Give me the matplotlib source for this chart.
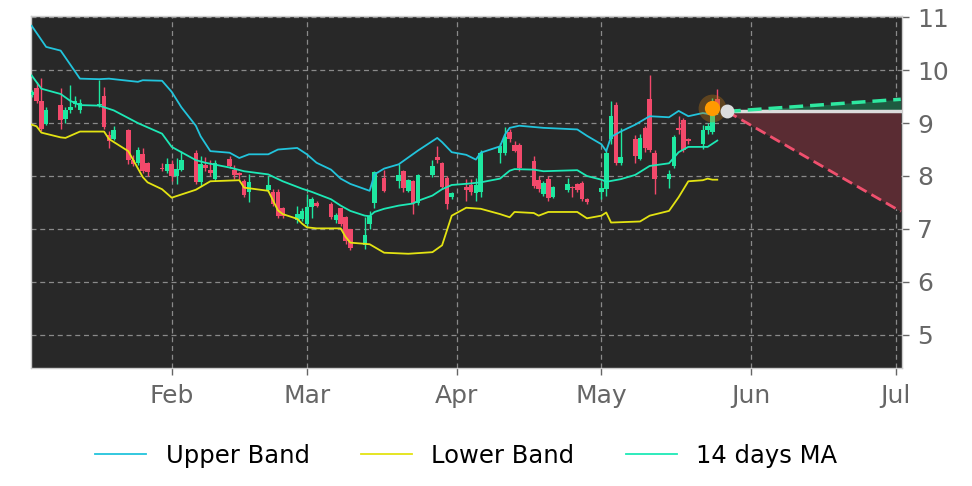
import matplotlib
matplotlib.use("Agg")
import matplotlib.pyplot as plt
import matplotlib.dates as mdates
import numpy as np
import pandas as pd

# ---------------- data ----------------
candle_dates = [
    "2023-01-03","2023-01-04","2023-01-05","2023-01-06","2023-01-09","2023-01-10","2023-01-11","2023-01-12","2023-01-13",
    "2023-01-17","2023-01-18","2023-01-19","2023-01-20","2023-01-23","2023-01-24","2023-01-25","2023-01-26","2023-01-27",
    "2023-01-30","2023-01-31","2023-02-01","2023-02-02","2023-02-03","2023-02-06","2023-02-07","2023-02-08","2023-02-09",
    "2023-02-10","2023-02-13","2023-02-14","2023-02-15","2023-02-16","2023-02-17","2023-02-21","2023-02-22","2023-02-23",
    "2023-02-24","2023-02-27","2023-02-28","2023-03-01","2023-03-02","2023-03-03","2023-03-06","2023-03-07","2023-03-08",
    "2023-03-09","2023-03-10","2023-03-13","2023-03-14","2023-03-15","2023-03-17","2023-03-20","2023-03-21","2023-03-22",
    "2023-03-23","2023-03-24","2023-03-27","2023-03-28","2023-03-29","2023-03-30","2023-03-31","2023-04-03","2023-04-04",
    "2023-04-05","2023-04-06","2023-04-10","2023-04-11","2023-04-12","2023-04-13","2023-04-14","2023-04-17","2023-04-18",
    "2023-04-19","2023-04-20","2023-04-21","2023-04-24","2023-04-25","2023-04-26","2023-04-27","2023-04-28","2023-05-01",
    "2023-05-02","2023-05-03","2023-05-04","2023-05-05","2023-05-08","2023-05-09","2023-05-10","2023-05-11","2023-05-12",
    "2023-05-15","2023-05-16","2023-05-17","2023-05-18","2023-05-19","2023-05-22","2023-05-23","2023-05-24","2023-05-25",
]
opens = [
    9.53, 9.66, 9.41, 8.99, 9.35, 9.08, 9.25, 9.36, 9.24,
    9.35, 9.51, 8.78, 8.70, 8.86, 8.31, 8.25, 8.41, 8.24,
    8.16, 8.09, 8.22, 8.00, 8.12, 8.44, 7.89, 8.20, 8.12,
    7.94, 8.33, 8.12, 8.05, 7.91, 7.70, 7.73, 7.69, 7.69,
    7.39, 7.16, 7.19, 7.09, 7.41, 7.49, 7.47, 7.17, 7.39,
    7.22, 6.99, 6.69, 7.09, 7.49, 7.97, 7.91, 8.09, 7.72,
    7.91, 7.49, 8.01, 8.36, 8.24, 7.97, 7.60, 7.80, 7.83,
    7.68, 7.69, 8.44, 8.44, 8.84, 8.59, 8.59, 8.28, 7.93,
    7.66, 7.94, 7.61, 7.74, 7.80, 7.84, 7.86, 7.56, 7.69,
    7.75, 8.69, 9.34, 8.25, 8.70, 8.32, 8.91, 9.45, 8.44,
    7.95, 8.19, 8.91, 9.06, 8.69, 8.61, 8.86, 8.84, 9.45,
]
highs = [
    9.62, 9.78, 9.85, 9.30, 9.66, 9.30, 9.72, 9.52, 9.45,
    9.81, 9.69, 8.85, 8.94, 8.88, 8.40, 8.55, 8.53, 8.27,
    8.25, 8.34, 8.30, 8.34, 8.47, 8.50, 8.38, 8.35, 8.31,
    8.30, 8.38, 8.20, 8.08, 7.95, 8.03, 8.00, 7.75, 7.75,
    7.42, 7.44, 7.40, 7.66, 7.60, 7.52, 7.50, 7.30, 7.40,
    7.25, 7.00, 7.22, 7.34, 8.10, 8.12, 8.22, 8.12, 7.95,
    7.93, 8.03, 8.31, 8.57, 8.27, 8.00, 7.70, 7.94, 7.94,
    7.97, 8.49, 8.62, 8.92, 8.88, 8.66, 8.62, 8.38, 8.00,
    7.90, 8.00, 7.82, 7.97, 7.81, 7.86, 7.90, 7.58, 7.89,
    8.50, 9.41, 9.40, 8.90, 8.78, 8.80, 8.95, 9.91, 8.50,
    8.12, 8.78, 9.13, 9.10, 8.72, 8.97, 9.00, 9.47, 9.65,
]
lows = [
    9.50, 9.38, 8.85, 8.97, 8.88, 9.00, 9.19, 9.30, 9.20,
    9.30, 8.88, 8.53, 8.68, 8.22, 8.18, 8.20, 8.05, 8.00,
    8.10, 8.05, 7.90, 7.85, 8.10, 7.85, 7.81, 8.10, 8.00,
    7.90, 8.15, 7.95, 7.95, 7.60, 7.51, 7.70, 7.43, 7.20,
    7.20, 7.12, 7.15, 7.05, 7.20, 7.42, 7.18, 7.12, 7.05,
    6.72, 6.60, 6.62, 7.00, 7.40, 7.70, 7.78, 7.70, 7.70,
    7.28, 7.45, 7.98, 8.25, 7.75, 7.38, 7.56, 7.53, 7.65,
    7.53, 7.60, 8.25, 8.40, 8.65, 8.45, 8.10, 7.78, 7.70,
    7.63, 7.53, 7.58, 7.70, 7.60, 7.70, 7.53, 7.48, 7.56,
    7.63, 8.60, 8.20, 8.20, 8.25, 8.30, 8.45, 8.45, 7.66,
    7.78, 8.15, 8.80, 8.45, 8.60, 8.51, 8.80, 8.80, 9.25,
]
closes = [
    9.58, 9.42, 8.88, 9.25, 9.06, 9.25, 9.31, 9.41, 9.38,
    9.37, 8.93, 8.66, 8.86, 8.31, 8.22, 8.50, 8.09, 8.08,
    8.13, 8.22, 8.00, 8.13, 8.31, 7.89, 8.22, 8.16, 8.05,
    8.25, 8.19, 8.01, 8.01, 7.64, 7.89, 7.83, 7.47, 7.25,
    7.25, 7.28, 7.34, 7.41, 7.56, 7.44, 7.22, 7.26, 7.09,
    6.78, 6.63, 6.88, 7.24, 8.07, 7.72, 8.01, 7.78, 7.92,
    7.49, 8.01, 8.19, 8.30, 7.80, 7.47, 7.67, 7.74, 7.69,
    7.83, 8.44, 8.56, 8.74, 8.69, 8.47, 8.16, 7.81, 7.75,
    7.86, 7.59, 7.80, 7.84, 7.78, 7.74, 7.56, 7.50, 7.78,
    8.44, 9.14, 8.25, 8.36, 8.38, 8.72, 8.53, 8.50, 7.94,
    8.04, 8.74, 8.86, 8.49, 8.66, 8.87, 8.95, 9.16, 9.30,
]

upper_dates = ["2023-01-03","2023-01-06","2023-01-09","2023-01-13","2023-01-17","2023-01-19","2023-01-25","2023-01-26",
               "2023-01-30","2023-02-01","2023-02-03","2023-02-06","2023-02-07","2023-02-09","2023-02-13","2023-02-15",
               "2023-02-17","2023-02-21","2023-02-23","2023-02-27","2023-03-01","2023-03-03","2023-03-06","2023-03-08",
               "2023-03-10","2023-03-14","2023-03-15","2023-03-17","2023-03-20","2023-03-24","2023-03-28","2023-03-29",
               "2023-03-31","2023-04-03","2023-04-05","2023-04-06","2023-04-10","2023-04-11","2023-04-12","2023-04-14",
               "2023-04-19","2023-04-26","2023-04-28","2023-05-01","2023-05-02","2023-05-03","2023-05-05","2023-05-08",
               "2023-05-11","2023-05-15","2023-05-17","2023-05-19","2023-05-22","2023-05-24","2023-05-25"]
upper_vals = [10.84, 10.44, 10.37, 9.84, 9.83, 9.84, 9.78, 9.81,
              9.80, 9.59, 9.30, 8.95, 8.75, 8.47, 8.44, 8.34,
              8.41, 8.41, 8.50, 8.53, 8.41, 8.25, 8.12, 7.95,
              7.85, 7.72, 8.03, 8.14, 8.22, 8.48, 8.72, 8.64,
              8.45, 8.40, 8.31, 8.44, 8.56, 8.78, 8.91, 8.95,
              8.91, 8.88, 8.76, 8.60, 8.47, 8.74, 8.84, 8.97,
              9.13, 9.11, 9.23, 9.13, 9.19, 9.16, 9.17]

ma_dates = ["2023-01-03","2023-01-05","2023-01-09","2023-01-11","2023-01-13","2023-01-17","2023-01-20","2023-01-25",
            "2023-01-30","2023-02-01","2023-02-06","2023-02-08","2023-02-13","2023-02-16","2023-02-21","2023-02-24",
            "2023-02-28","2023-03-02","2023-03-06","2023-03-08","2023-03-10","2023-03-13","2023-03-14","2023-03-15",
            "2023-03-17","2023-03-20","2023-03-23","2023-03-24","2023-03-27","2023-03-29","2023-03-31","2023-04-04",
            "2023-04-06","2023-04-10","2023-04-12","2023-04-13","2023-04-17","2023-04-19","2023-04-26","2023-04-28",
            "2023-05-01","2023-05-02","2023-05-05","2023-05-08","2023-05-11","2023-05-15","2023-05-17","2023-05-19",
            "2023-05-23","2023-05-25"]
ma_vals = [9.90, 9.65, 9.55, 9.42, 9.34, 9.33, 9.24, 9.00,
           8.80, 8.55, 8.30, 8.25, 8.16, 8.09, 8.03, 7.90,
           7.76, 7.70, 7.56, 7.44, 7.34, 7.25, 7.24, 7.32,
           7.38, 7.44, 7.48, 7.53, 7.63, 7.75, 7.83, 7.86,
           7.88, 7.95, 8.10, 8.13, 8.12, 8.09, 8.11, 8.00,
           7.93, 7.89, 7.94, 8.02, 8.19, 8.24, 8.45, 8.55,
           8.55, 8.67]

lower_dates = ["2023-01-03","2023-01-04","2023-01-05","2023-01-09","2023-01-10","2023-01-13","2023-01-18","2023-01-19",
               "2023-01-23","2023-01-26","2023-01-27","2023-01-30","2023-02-01","2023-02-02","2023-02-06","2023-02-09",
               "2023-02-15","2023-02-16","2023-02-21","2023-02-23","2023-02-24","2023-02-27","2023-02-28","2023-03-01",
               "2023-03-03","2023-03-08","2023-03-09","2023-03-10","2023-03-14","2023-03-17","2023-03-22","2023-03-27",
               "2023-03-29","2023-03-31","2023-04-03","2023-04-06","2023-04-10","2023-04-12","2023-04-13","2023-04-17",
               "2023-04-18","2023-04-20","2023-04-26","2023-04-28","2023-05-01","2023-05-02","2023-05-03","2023-05-09",
               "2023-05-11","2023-05-15","2023-05-17","2023-05-19","2023-05-22","2023-05-23","2023-05-24","2023-05-25"]
lower_vals = [8.97, 8.94, 8.82, 8.73, 8.72, 8.84, 8.84, 8.70,
              8.47, 7.98, 7.88, 7.75, 7.59, 7.62, 7.74, 7.90,
              7.92, 7.78, 7.72, 7.35, 7.28, 7.19, 7.10, 7.03,
              7.01, 7.01, 6.85, 6.74, 6.71, 6.55, 6.53, 6.56,
              6.69, 7.25, 7.40, 7.38, 7.28, 7.22, 7.32, 7.30,
              7.25, 7.32, 7.32, 7.20, 7.25, 7.31, 7.12, 7.14,
              7.25, 7.34, 7.60, 7.90, 7.92, 7.95, 7.93, 7.93]

marker_date, marker_val = "2023-05-24", 9.28
proj_dates = ["2023-05-27", "2023-07-02"]
proj_mid = [9.22, 9.22]
proj_high = [9.22, 9.45]
proj_low = [9.22, 7.33]

month_ticks = ["2023-02-01", "2023-03-01", "2023-04-01", "2023-05-01", "2023-06-01", "2023-07-01"]
month_labels = ["Feb", "Mar", "Apr", "May", "Jun", "Jul"]
y_ticks = [5, 6, 7, 8, 9, 10, 11]

# ---------------- styling ----------------
bg = "#282828"
up_c = "#1ee8a0"
down_c = "#f2496b"
upper_c = "#22c4dc"
lower_c = "#e3e312"
ma_c = "#1de9b6"

def dn(lst):
    return mdates.date2num(pd.to_datetime(lst))

fig = plt.figure(figsize=(9.72, 4.86), dpi=100)
fig.patch.set_facecolor("white")
ax = fig.add_axes([0.0316, 0.2422, 0.8961, 0.7255])
ax.set_facecolor(bg)

cd = dn(candle_dates)
o = np.array(opens); h = np.array(highs); l = np.array(lows); c = np.array(closes)
cols = np.where(c >= o, up_c, down_c)
ax.vlines(cd, l, h, colors=cols, linewidth=1.0, zorder=3)
body_bottom = np.minimum(o, c)
body_h = np.maximum(np.abs(c - o), 0.02)
ax.bar(cd, body_h, bottom=body_bottom, width=0.95, color=cols, linewidth=0, zorder=4)

ax.plot(dn(upper_dates), upper_vals, color=upper_c, linewidth=1.3, zorder=5, label="Upper Band")
ax.plot(dn(lower_dates), lower_vals, color=lower_c, linewidth=1.3, zorder=5, label="Lower Band")
ax.plot(dn(ma_dates), ma_vals, color=ma_c, linewidth=1.3, zorder=5, label="14 days MA")

pdn = dn(proj_dates)
ax.fill_between(pdn, proj_mid, proj_high, color="#1e5a40", linewidth=0, zorder=2)
ax.fill_between(pdn, proj_low, proj_mid, color="#5a2c33", linewidth=0, zorder=2)
ax.plot([pdn[0], pdn[1] + 0.3], proj_mid, color="#dcdcdc", linewidth=2.5, zorder=6)
ax.plot(pdn, proj_high, color="#2ee8a0", linewidth=2.5, linestyle=(0, (4, 2)), zorder=6)
ax.plot(pdn, proj_low, color="#f0506e", linewidth=2.0, linestyle=(0, (4, 2)), zorder=6)

md = dn([marker_date])[0]
ax.plot([md], [marker_val], "o", markersize=20, color="#c87a10", alpha=0.35, markeredgewidth=0, zorder=7)
ax.plot([md], [marker_val], "o", markersize=11, color="#ff9a00", markeredgewidth=0, zorder=8)
ax.plot([pdn[0]], [proj_mid[0]], "o", markersize=10, color="#dddddd", markeredgewidth=0, zorder=8)

x0 = dn(["2023-01-03"])[0] - 0.2
x1 = dn(["2023-07-02"])[0] + 0.2
ax.set_xlim(x0, x1)
ax.set_ylim(4.365, 11.03)

ax.set_xticks(dn(month_ticks))
ax.set_xticklabels(month_labels)
ax.set_yticks(y_ticks)
ax.yaxis.tick_right()
ax.tick_params(axis="both", labelsize=18, colors="#666666", length=5, width=1)
ax.tick_params(axis="y", pad=6)
ax.tick_params(axis="x", pad=6)
ax.grid(True, color="#8a8a8a", linestyle=(0, (4, 3)), linewidth=0.9)
ax.set_axisbelow(True)
for s in ax.spines.values():
    s.set_color("#cccccc")
    s.set_linewidth(1)

leg = ax.legend(loc="center", bbox_to_anchor=(0.5, -0.248), ncol=3, frameon=False,
                fontsize=17.5, handlelength=2.1, handletextpad=0.8, columnspacing=2.1)

fig.savefig("out.png", dpi=100, facecolor="white")
